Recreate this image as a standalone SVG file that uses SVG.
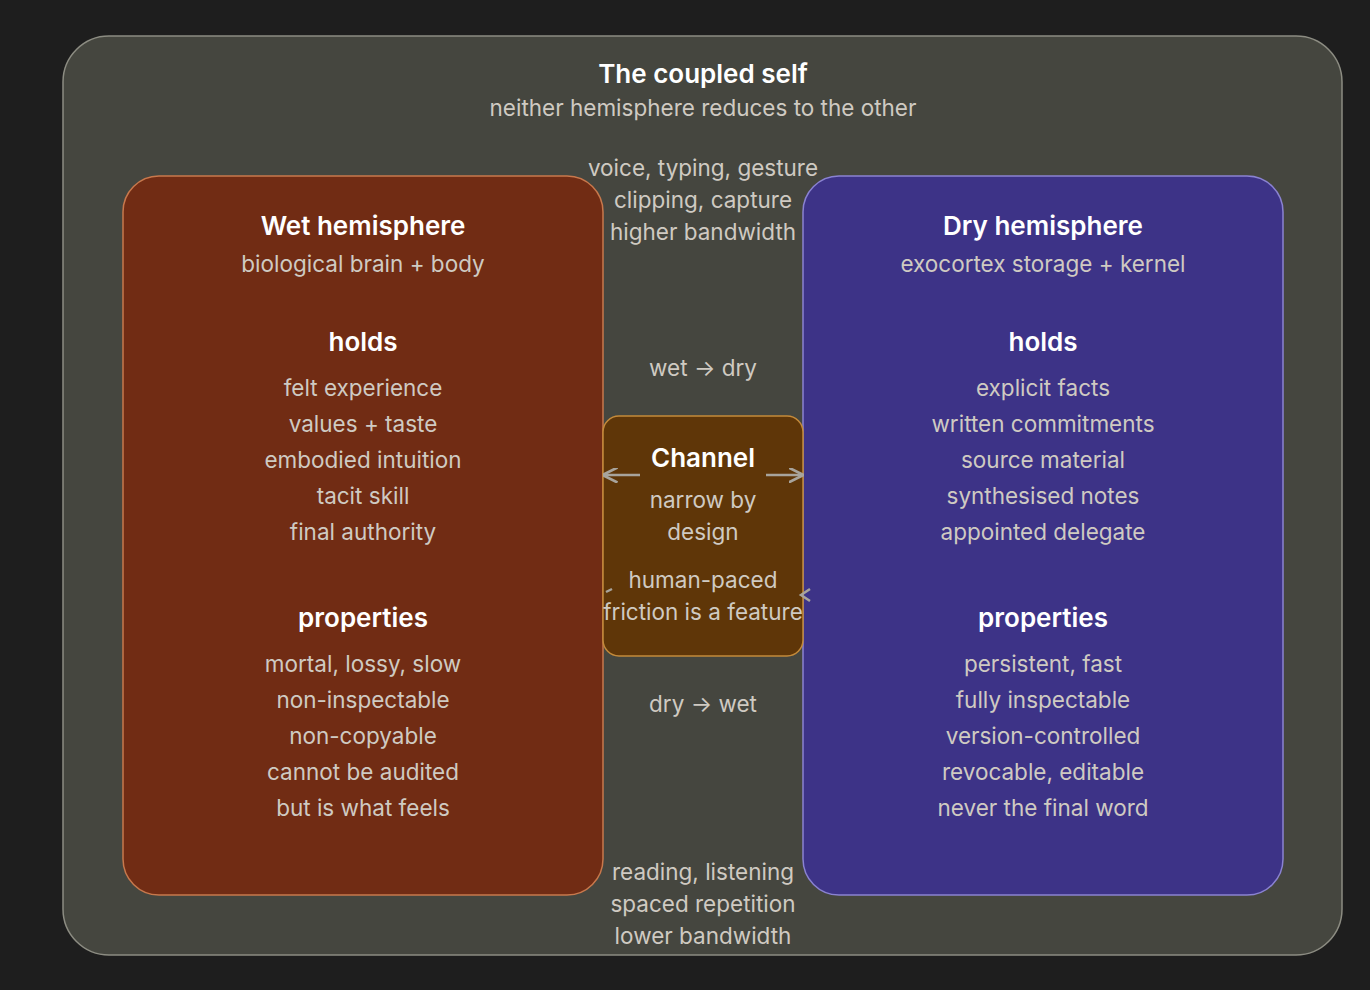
<svg xmlns="http://www.w3.org/2000/svg" width="1370" height="990" viewBox="0 0 1370 990">
<style>
text{font-family:Inter,"Noto Sans",sans-serif;text-anchor:middle}
.t{font-size:26px;font-weight:600;fill:#ffffff}
.b{font-size:22.5px;fill:#cfcac2}
.h{font-size:26px;font-weight:600;fill:#ffffff}
.e{fill:none;stroke:#a8a49c;stroke-width:2.5}
</style>
<defs><marker id="a" viewBox="0 0 10 10" refX="9" refY="5" markerWidth="6" markerHeight="6" orient="auto"><path d="M0,0 L10,5 L0,10" fill="none" stroke="#a8a49c" stroke-width="1.8"/></marker></defs>
<rect width="1370" height="990" fill="#1e1e1e"/>
<g id="outer">
<rect x="63" y="36" width="1279" height="919" rx="46" fill="#45463f" stroke="#8c8c82" stroke-width="1.5"/>
<text class="t" x="703" y="83">The coupled self</text>
<text class="b" x="703" y="116">neither hemisphere reduces to the other</text>
</g>
<g id="wet">
<rect x="123" y="176" width="480" height="719" rx="36" fill="#712c14" stroke="#c8784c" stroke-width="1.5"/>
<text class="h" x="363" y="235">Wet hemisphere</text>
<text class="b" x="363" y="272">biological brain + body</text>
<text class="h" x="363" y="351">holds</text>
<text class="b" x="363" y="396">felt experience</text>
<text class="b" x="363" y="432">values + taste</text>
<text class="b" x="363" y="468">embodied intuition</text>
<text class="b" x="363" y="504">tacit skill</text>
<text class="b" x="363" y="540">final authority</text>
<text class="h" x="363" y="627">properties</text>
<text class="b" x="363" y="672">mortal, lossy, slow</text>
<text class="b" x="363" y="708">non-inspectable</text>
<text class="b" x="363" y="744">non-copyable</text>
<text class="b" x="363" y="780">cannot be audited</text>
<text class="b" x="363" y="816">but is what feels</text>
</g>
<g id="dry">
<rect x="803" y="176" width="480" height="719" rx="36" fill="#3d3387" stroke="#8a82d2" stroke-width="1.5"/>
<text class="h" x="1043" y="235">Dry hemisphere</text>
<text class="b" x="1043" y="272">exocortex storage + kernel</text>
<text class="h" x="1043" y="351">holds</text>
<text class="b" x="1043" y="396">explicit facts</text>
<text class="b" x="1043" y="432">written commitments</text>
<text class="b" x="1043" y="468">source material</text>
<text class="b" x="1043" y="504">synthesised notes</text>
<text class="b" x="1043" y="540">appointed delegate</text>
<text class="h" x="1043" y="627">properties</text>
<text class="b" x="1043" y="672">persistent, fast</text>
<text class="b" x="1043" y="708">fully inspectable</text>
<text class="b" x="1043" y="744">version-controlled</text>
<text class="b" x="1043" y="780">revocable, editable</text>
<text class="b" x="1043" y="816">never the final word</text>
</g>
<g id="channel">
<rect x="603" y="416" width="200" height="240" rx="16" fill="#5f3608" stroke="#c48a3a" stroke-width="1.5"/>
<text class="h" x="703" y="467">Channel</text>
<text class="b" x="703" y="508">narrow by</text>
<text class="b" x="703" y="540">design</text>
</g>
<g id="connectors">
<line class="e" x1="640" y1="475" x2="604" y2="475" marker-end="url(#a)"/>
<line class="e" x1="766" y1="475" x2="802" y2="475" marker-end="url(#a)"/>
<path class="e" d="M612,589 L606,592"/>
<path class="e" d="M810,589 L801,595 L810,601"/>
<text class="b" x="703" y="176">voice, typing, gesture</text>
<text class="b" x="703" y="208">clipping, capture</text>
<text class="b" x="703" y="240">higher bandwidth</text>
<text class="b" x="703" y="376">wet → dry</text>
<text class="b" x="703" y="588">human-paced</text>
<text class="b" x="703" y="620">friction is a feature</text>
<text class="b" x="703" y="712">dry → wet</text>
<text class="b" x="703" y="880">reading, listening</text>
<text class="b" x="703" y="912">spaced repetition</text>
<text class="b" x="703" y="944">lower bandwidth</text>
</g>
</svg>
